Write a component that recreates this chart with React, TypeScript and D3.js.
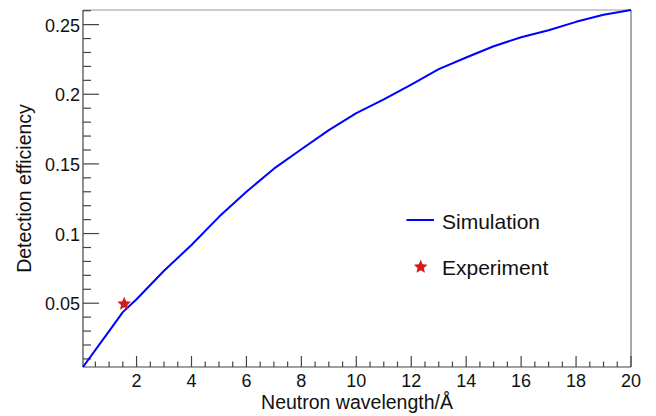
import React from "react";
import * as d3 from "d3";

const wavelength = [0.05, 1, 1.5, 2, 3, 4, 5, 6, 7, 8, 9, 10, 11, 12, 13, 14, 15, 16, 17, 18, 19, 20];
const efficiency = [0.0042, 0.030, 0.0436, 0.0528, 0.0733, 0.0918, 0.112, 0.130, 0.1466, 0.1605, 0.1743, 0.1865, 0.1963, 0.207, 0.218, 0.2264, 0.2345, 0.2409, 0.246, 0.252, 0.2571, 0.2605];
const expX = [1.55];
const expY = [0.0495];
const xMajor = [2, 4, 6, 8, 10, 12, 14, 16, 18, 20];
const yMajor = [0.05, 0.1, 0.15, 0.2, 0.25];
const yLabels = ["0.05", "0.1", "0.15", "0.2", "0.25"];

const W = 656, H = 416;
const L = 83, R = 631, T = 10, B = 367;
const FONT = "'Liberation Sans', Arial, Helvetica, sans-serif";

function starPath(rOut: number, rIn: number): string {
  const pts: [number, number][] = d3.range(10).map((k) => {
    const a = (k * Math.PI) / 5 - Math.PI / 2;
    const r = k % 2 === 0 ? rOut : rIn;
    return [r * Math.cos(a), r * Math.sin(a)];
  });
  return (d3.line()(pts) || "") + "Z";
}

export default function App() {
  const x = d3.scaleLinear().domain([0.05, 20]).range([L, R]);
  const y = d3.scaleLinear().domain([0.0042, 0.2605]).range([B, T]);
  const line = d3.line<number>().x((_, i) => x(wavelength[i])).y((d) => y(d));
  const star = starPath(7.2, 3.3);

  const xMinor = d3.range(0.5, 20, 0.5).filter((v) => Math.abs(v / 2 - Math.round(v / 2)) > 1e-6);
  const yMinor = d3.range(1, 27).map((k) => k / 100).filter((v) => Math.abs(v * 20 - Math.round(v * 20)) > 1e-6 && v >= 0.0042 && v <= 0.2606);

  const axisColor = "#444";
  return (
    <svg width={W} height={H} style={{ position: "absolute", left: 0, top: 0, background: "#fff" }}>
      <rect x={0} y={0} width={W} height={H} fill="#fff" />
      {/* frame */}
      <line x1={L} y1={T} x2={R} y2={T} stroke="#999" strokeWidth={1} />
      <line x1={R} y1={T} x2={R} y2={B} stroke="#555" strokeWidth={1} />
      <line x1={L} y1={T} x2={L} y2={B} stroke={axisColor} strokeWidth={1.2} />
      <line x1={L} y1={B} x2={R} y2={B} stroke={axisColor} strokeWidth={1.2} />
      {/* x ticks */}
      {xMajor.map((v) => (
        <line key={"xm" + v} x1={x(v)} x2={x(v)} y1={B} y2={B - 11} stroke={axisColor} strokeWidth={1.2} />
      ))}
      {xMinor.map((v) => (
        <line key={"xn" + v} x1={x(v)} x2={x(v)} y1={B} y2={B - 5.5} stroke={axisColor} strokeWidth={1.2} />
      ))}
      {xMajor.map((v) => (
        <text key={"xl" + v} x={x(v)} y={387} textAnchor="middle" fontFamily={FONT} fontSize={18} fill="#111">
          {v}
        </text>
      ))}
      {/* y ticks */}
      {yMajor.map((v) => (
        <line key={"ym" + v} x1={L} x2={L + 16} y1={y(v)} y2={y(v)} stroke={axisColor} strokeWidth={1.2} />
      ))}
      {yMinor.map((v) => (
        <line key={"yn" + v} x1={L} x2={L + 8} y1={y(v)} y2={y(v)} stroke={axisColor} strokeWidth={1.2} />
      ))}
      {yMajor.map((v, i) => (
        <text key={"yl" + v} x={80} y={y(v) + 7} textAnchor="end" fontFamily={FONT} fontSize={18} fill="#111">
          {yLabels[i]}
        </text>
      ))}
      {/* titles */}
      <text x={(L + R) / 2} y={409} textAnchor="middle" fontFamily={FONT} fontSize={19.5} fill="#111">
        Neutron wavelength/Å
      </text>
      <text transform={`translate(31,${(T + B) / 2}) rotate(-90)`} textAnchor="middle" fontFamily={FONT} fontSize={19.5} fill="#111">
        Detection efficiency
      </text>
      {/* simulation curve */}
      <path d={line(efficiency) || ""} fill="none" stroke="#0000ff" strokeWidth={2} strokeLinejoin="round" />
      {/* experiment */}
      {expX.map((v, i) => (
        <path key={"e" + i} d={star} transform={`translate(${x(v)},${y(expY[i])})`} fill="#d41a1a" />
      ))}
      {/* legend */}
      <line x1={406.5} x2={434} y1={220} y2={220} stroke="#0000ff" strokeWidth={2} />
      <text x={442} y={229} fontFamily={FONT} fontSize={21} fill="#111">Simulation</text>
      <path d={star} transform="translate(420.7,267)" fill="#d41a1a" />
      <text x={442} y={275} fontFamily={FONT} fontSize={21} fill="#111">Experiment</text>
    </svg>
  );
}
